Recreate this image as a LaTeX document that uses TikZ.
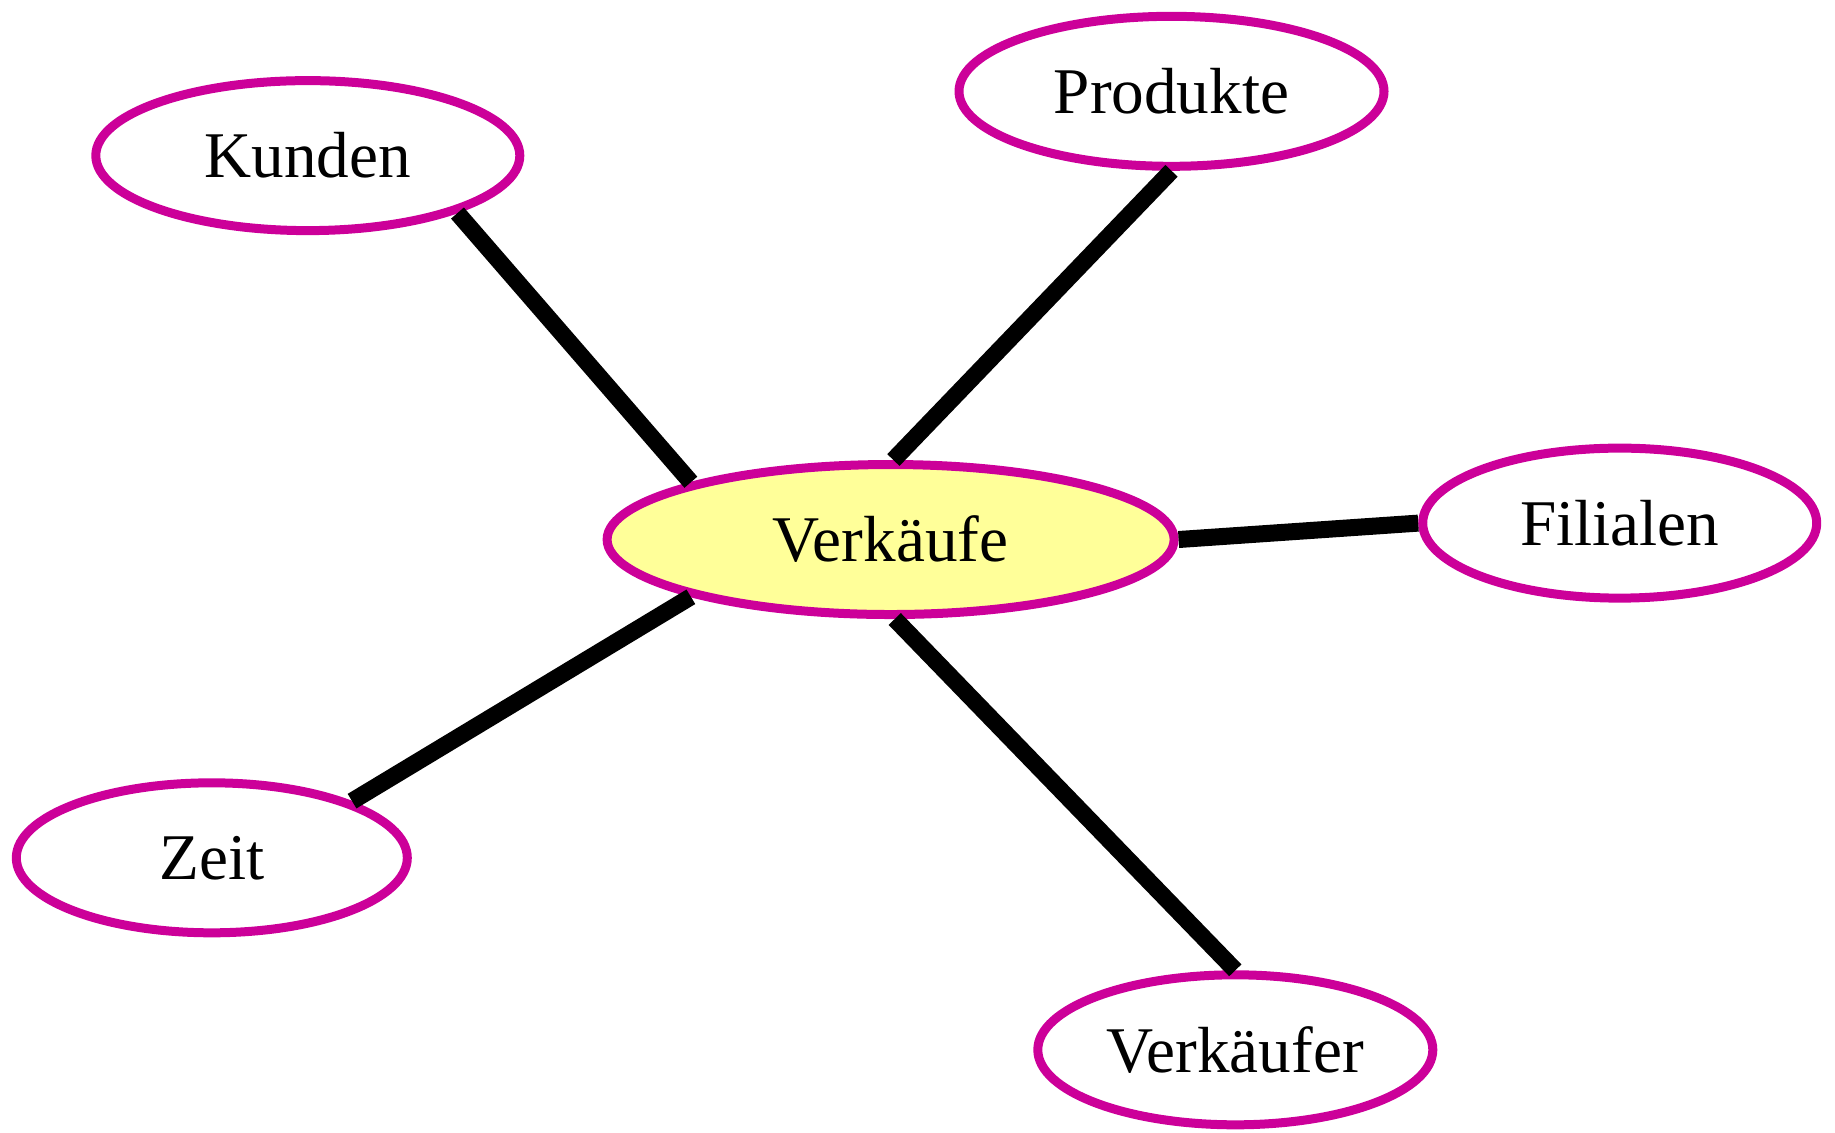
\documentclass[tikz,border=0pt]{standalone}
\usepackage{fontspec}
\setmainfont{Liberation Serif}
\usetikzlibrary{shapes.geometric}
\definecolor{edgemag}{HTML}{CC0099}
\definecolor{fillyel}{HTML}{FFFF99}
\tikzset{
  entity/.style={ellipse, draw=edgemag, line width=4.5pt, inner sep=0pt,
    minimum height=75pt, font=\fontsize{32.6}{38}\selectfont, text=black},
  link/.style={line width=8.5pt, black, line cap=butt}
}
\begin{document}
\begin{tikzpicture}[x=0.5pt,y=-0.5pt]
\useasboundingbox (0,0) rectangle (1835,1132);
\node[entity, minimum width=212pt] (kunden) at (307.8,155.6) {Kunden};
\node[entity, minimum width=212.5pt] (produkte) at (1171.5,91.3) {Produkte};
\node[entity, minimum width=283.5pt, fill=fillyel] (verk) at (890.6,539.5) {Verkäufe};
\node[entity, minimum width=197pt] (filialen) at (1619.7,523.1) {Filialen};
\node[entity, minimum width=195.5pt] (zeit) at (211.8,857.8) {Zeit};
\node[entity, minimum width=197.5pt] (verkaeufer) at (1235.3,1049.8) {Verkäufer};
\draw[link] (kunden.-21.8) -- (verk.164.6);
\draw[link] (produkte.-90.5) -- (verk.88);
\draw[link] (verk.east) -- (filialen.west);
\draw[link] (zeit.22.3) -- (verk.196.5);
\draw[link] (verk.-87.6) -- (verkaeufer.north);
\end{tikzpicture}
\end{document}
